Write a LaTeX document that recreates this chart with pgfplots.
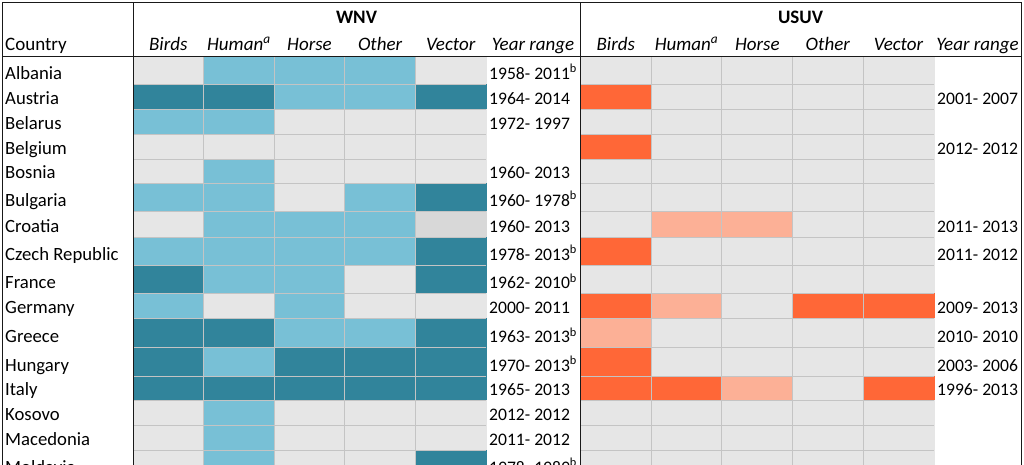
\documentclass[border=0pt]{standalone}
\usepackage{pgfplots}
\pgfplotsset{compat=1.18}
\usepackage{fontspec}
\setmainfont{Carlito}
\definecolor{gridc}{RGB}{196,196,196}
\definecolor{framec}{RGB}{25,25,25}
\newcommand{\fs}{\fontsize{18.7}{23}\selectfont}
\newcommand{\fy}{\fontsize{17.6}{22}\selectfont}
\newcommand{\fh}{\fontsize{19}{23}\selectfont}
\begin{document}
\begin{tikzpicture}[font=\fs]
\begin{axis}[
  width=1024pt, height=480pt, scale only axis,
  xmin=0, xmax=1024, ymin=0, ymax=480, y dir=reverse,
  axis line style={draw=none},
  major tick length=0pt, tick style={draw=none},
  xtick={168.3,238.9,309.5,380.1,450.7,533,615.8,686.5,757.3,827.8,898.5,977.5},
  xticklabels={Birds,Human\textsuperscript{a},Horse,Other,Vector,Year range,Birds,Human\textsuperscript{a},Horse,Other,Vector,Year range},
  xticklabel style={anchor=base, yshift=430pt, inner sep=0pt, font=\fh\itshape},
  ytick={79,104.5,129,154,178,206,232,260,288.5,313.5,342.5,371,395.5,420,445,473},
  yticklabels={Albania,Austria,Belarus,Belgium,Bosnia,Bulgaria,Croatia,Czech Republic,France,Germany,Greece,Hungary,Italy,Kosovo,Macedonia,Moldavia},
  yticklabel style={anchor=base west, xshift=5pt, inner sep=0pt, font=\fs},
  colormap={hm}{rgb255=(230,230,230) rgb255=(120,192,214) rgb255=(49,132,155) rgb255=(252,176,150) rgb255=(255,103,55) rgb255=(216,216,216)},
  colormap access=direct,
  clip=false,
]
% WNV cells (vertex grid, meta = class of cell starting at vertex)
\addplot[surf, shader=flat corner, mesh/cols=6, point meta=explicit] coordinates {
(133,57)[0] (203.6,57)[1] (274.2,57)[1] (344.8,57)[1] (415.4,57)[0] (486,57)[0]
(133,84)[2] (203.6,84)[2] (274.2,84)[1] (344.8,84)[1] (415.4,84)[2] (486,84)[0]
(133,109.5)[1] (203.6,109.5)[1] (274.2,109.5)[0] (344.8,109.5)[0] (415.4,109.5)[0] (486,109.5)[0]
(133,134)[0] (203.6,134)[0] (274.2,134)[0] (344.8,134)[0] (415.4,134)[0] (486,134)[0]
(133,159)[0] (203.6,159)[1] (274.2,159)[0] (344.8,159)[0] (415.4,159)[0] (486,159)[0]
(133,183)[1] (203.6,183)[1] (274.2,183)[0] (344.8,183)[1] (415.4,183)[2] (486,183)[0]
(133,211)[0] (203.6,211)[1] (274.2,211)[1] (344.8,211)[1] (415.4,211)[5] (486,211)[0]
(133,237)[1] (203.6,237)[1] (274.2,237)[1] (344.8,237)[1] (415.4,237)[2] (486,237)[0]
(133,265)[2] (203.6,265)[1] (274.2,265)[1] (344.8,265)[0] (415.4,265)[2] (486,265)[0]
(133,293.5)[1] (203.6,293.5)[0] (274.2,293.5)[1] (344.8,293.5)[0] (415.4,293.5)[0] (486,293.5)[0]
(133,318.5)[2] (203.6,318.5)[2] (274.2,318.5)[1] (344.8,318.5)[1] (415.4,318.5)[2] (486,318.5)[0]
(133,347.5)[2] (203.6,347.5)[1] (274.2,347.5)[2] (344.8,347.5)[2] (415.4,347.5)[2] (486,347.5)[0]
(133,376)[2] (203.6,376)[2] (274.2,376)[2] (344.8,376)[2] (415.4,376)[2] (486,376)[0]
(133,400.5)[0] (203.6,400.5)[1] (274.2,400.5)[0] (344.8,400.5)[0] (415.4,400.5)[0] (486,400.5)[0]
(133,425)[0] (203.6,425)[1] (274.2,425)[0] (344.8,425)[0] (415.4,425)[0] (486,425)[0]
(133,450)[0] (203.6,450)[1] (274.2,450)[0] (344.8,450)[0] (415.4,450)[2] (486,450)[0]
(133,478)[0] (203.6,478)[0] (274.2,478)[0] (344.8,478)[0] (415.4,478)[0] (486,478)[0]
};
% USUV cells
\addplot[surf, shader=flat corner, mesh/cols=6, point meta=explicit] coordinates {
(580.5,57)[0] (651.2,57)[0] (721.9,57)[0] (792.6,57)[0] (863.3,57)[0] (934,57)[0]
(580.5,84)[4] (651.2,84)[0] (721.9,84)[0] (792.6,84)[0] (863.3,84)[0] (934,84)[0]
(580.5,109.5)[0] (651.2,109.5)[0] (721.9,109.5)[0] (792.6,109.5)[0] (863.3,109.5)[0] (934,109.5)[0]
(580.5,134)[4] (651.2,134)[0] (721.9,134)[0] (792.6,134)[0] (863.3,134)[0] (934,134)[0]
(580.5,159)[0] (651.2,159)[0] (721.9,159)[0] (792.6,159)[0] (863.3,159)[0] (934,159)[0]
(580.5,183)[0] (651.2,183)[0] (721.9,183)[0] (792.6,183)[0] (863.3,183)[0] (934,183)[0]
(580.5,211)[0] (651.2,211)[3] (721.9,211)[3] (792.6,211)[0] (863.3,211)[0] (934,211)[0]
(580.5,237)[4] (651.2,237)[0] (721.9,237)[0] (792.6,237)[0] (863.3,237)[0] (934,237)[0]
(580.5,265)[0] (651.2,265)[0] (721.9,265)[0] (792.6,265)[0] (863.3,265)[0] (934,265)[0]
(580.5,293.5)[4] (651.2,293.5)[3] (721.9,293.5)[0] (792.6,293.5)[4] (863.3,293.5)[4] (934,293.5)[0]
(580.5,318.5)[3] (651.2,318.5)[0] (721.9,318.5)[0] (792.6,318.5)[0] (863.3,318.5)[0] (934,318.5)[0]
(580.5,347.5)[4] (651.2,347.5)[0] (721.9,347.5)[0] (792.6,347.5)[0] (863.3,347.5)[0] (934,347.5)[0]
(580.5,376)[4] (651.2,376)[4] (721.9,376)[3] (792.6,376)[0] (863.3,376)[4] (934,376)[0]
(580.5,400.5)[0] (651.2,400.5)[0] (721.9,400.5)[0] (792.6,400.5)[0] (863.3,400.5)[0] (934,400.5)[0]
(580.5,425)[0] (651.2,425)[0] (721.9,425)[0] (792.6,425)[0] (863.3,425)[0] (934,425)[0]
(580.5,450)[0] (651.2,450)[0] (721.9,450)[0] (792.6,450)[0] (863.3,450)[0] (934,450)[0]
(580.5,478)[0] (651.2,478)[0] (721.9,478)[0] (792.6,478)[0] (863.3,478)[0] (934,478)[0]
};
% cell grid lines
\pgfplotsinvokeforeach{84,109.5,134,159,183,211,237,265,293.5,318.5,347.5,376,400.5,425,450}{
  \draw[gridc, line width=0.9pt] (axis cs:133,#1) -- (axis cs:486,#1);
  \draw[gridc, line width=0.9pt] (axis cs:580.5,#1) -- (axis cs:934,#1);
}
\pgfplotsinvokeforeach{203.6,274.2,344.8,415.4,651.2,721.9,792.6,863.3}{
  \draw[gridc, line width=0.9pt] (axis cs:#1,57) -- (axis cs:#1,480);
}
% frame
\draw[framec, line width=1pt] (axis cs:2,480) -- (axis cs:2,2) -- (axis cs:1021.5,2) -- (axis cs:1021.5,480);
\draw[framec, line width=1pt] (axis cs:133,2) -- (axis cs:133,480);
\draw[framec, line width=1pt] (axis cs:580.5,2) -- (axis cs:580.5,480);
\draw[framec, line width=1pt] (axis cs:2,56.5) -- (axis cs:1021.5,56.5);
% group titles
\node[anchor=base, font=\fh\bfseries] at (axis cs:356.5,23) {WNV};
\node[anchor=base, font=\fh\bfseries] at (axis cs:800.5,23) {USUV};
\node[anchor=base west, inner sep=0pt, font=\fh] at (axis cs:5,50) {Country};
% WNV year ranges
\begin{scope}[every node/.style={anchor=base west, inner sep=0pt, font=\fy}]
\node at (axis cs:489,79) {1958- 2011\textsuperscript{b}};
\node at (axis cs:489,104.5) {1964- 2014};
\node at (axis cs:489,129) {1972- 1997};
\node at (axis cs:489,178) {1960- 2013};
\node at (axis cs:489,206) {1960- 1978\textsuperscript{b}};
\node at (axis cs:489,232) {1960- 2013};
\node at (axis cs:489,260) {1978- 2013\textsuperscript{b}};
\node at (axis cs:489,288.5) {1962- 2010\textsuperscript{b}};
\node at (axis cs:489,313.5) {2000- 2011};
\node at (axis cs:489,342.5) {1963- 2013\textsuperscript{b}};
\node at (axis cs:489,371) {1970- 2013\textsuperscript{b}};
\node at (axis cs:489,395.5) {1965- 2013};
\node at (axis cs:489,420) {2012- 2012};
\node at (axis cs:489,445) {2011- 2012};
\node at (axis cs:489,473) {1978- 1989\textsuperscript{b}};
% USUV year ranges
\node at (axis cs:937,104.5) {2001- 2007};
\node at (axis cs:937,154) {2012- 2012};
\node at (axis cs:937,232) {2011- 2013};
\node at (axis cs:937,260) {2011- 2012};
\node at (axis cs:937,313.5) {2009- 2013};
\node at (axis cs:937,342.5) {2010- 2010};
\node at (axis cs:937,371) {2003- 2006};
\node at (axis cs:937,395.5) {1996- 2013};
\end{scope}
\coordinate (tl) at (axis cs:0,0);
\coordinate (br) at (axis cs:1024,464);
\end{axis}
\pgfresetboundingbox
\useasboundingbox (tl) rectangle (br);
\end{tikzpicture}
\end{document}
